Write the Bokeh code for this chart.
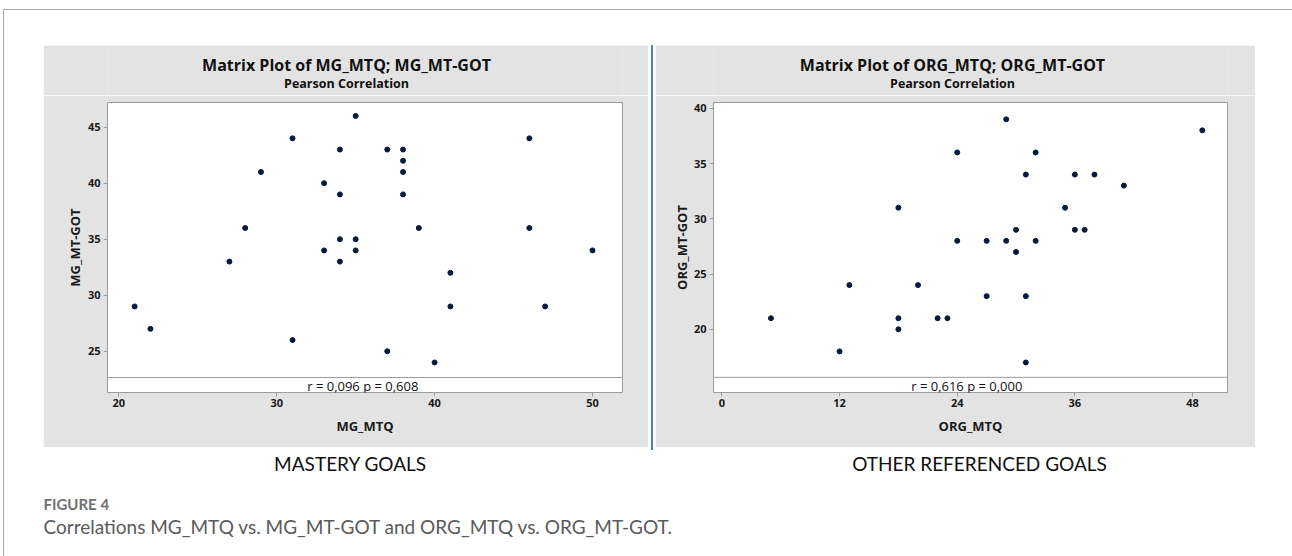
from bokeh.plotting import figure
from bokeh.models import Range1d, FixedTicker, Label, Span, Spacer
from bokeh.layouts import row, column
from bokeh.embed import file_html
from bokeh.resources import INLINE

# ---- data ----
mg_mtq = [21, 22, 27, 28, 29, 31, 31, 33, 33, 34, 34, 34, 34, 35, 35,
          35, 37, 37, 38, 38, 38, 38, 39, 40, 41, 41, 46, 46, 47, 50]
mg_got = [29, 27, 33, 36, 41, 44, 26, 40, 34, 43, 39, 35, 33, 46, 35,
          34, 43, 25, 43, 42, 41, 39, 36, 24, 32, 29, 44, 36, 29, 34]
org_mtq = [5, 12, 13, 18, 18, 18, 20, 22, 23, 24, 24, 27, 27, 29, 29,
           30, 30, 31, 31, 31, 32, 32, 35, 36, 36, 37, 38, 41, 49]
org_got = [21, 18, 24, 31, 21, 20, 24, 21, 21, 36, 28, 28, 23, 39, 28,
           29, 27, 34, 23, 17, 36, 28, 31, 34, 29, 29, 34, 33, 38]
mg_xticks = [20, 30, 40, 50]
mg_yticks = [25, 30, 35, 40, 45]
org_xticks = [0, 12, 24, 36, 48]
org_yticks = [20, 25, 30, 35, 40]
titles = ["Matrix Plot of MG_MTQ; MG_MT-GOT", "Matrix Plot of ORG_MTQ; ORG_MT-GOT"]
subtitle = "Pearson Correlation"
stats = ["r = 0,096  p = 0,608", "r = 0,616  p = 0,000"]
xlabels = ["MG_MTQ", "ORG_MTQ"]
ylabels = ["MG_MT-GOT", "ORG_MT-GOT"]
panel_names = ["MASTERY GOALS", "OTHER REFERENCED GOALS"]
fig_label = "FIGURE 4"
caption = "Correlations MG_MTQ vs. MG_MT-GOT and ORG_MTQ vs. ORG_MT-GOT."

GRAY = "#e3e3e3"
DOT = "#071a3d"
FONT = "Open Sans"


def blank(width, height, fill):
    f = figure(width=width, height=height, output_backend="svg", toolbar_location=None,
               x_range=Range1d(0, 1), y_range=Range1d(0, 1), min_border=0)
    f.axis.visible = False
    f.grid.visible = False
    f.outline_line_color = None
    f.background_fill_color = fill
    f.border_fill_color = fill
    return f


def panel(xs, ys, xr, yr, xt, yt, title, stat, xl, yl, width, mleft, mright,
          title_x, stat_x, strip_y, ylab_standoff):
    # header: its frame is aligned with the plot frame below by the column layout
    head = blank(width, 50, GRAY)
    head.add_layout(Label(x=title_x, y=31, x_units="screen", y_units="screen", text=title,
                          text_align="center", text_baseline="middle", text_font=FONT,
                          text_font_size="16px", text_font_style="bold", text_color="#111111"))
    head.add_layout(Label(x=title_x, y=12, x_units="screen", y_units="screen", text=subtitle,
                          text_align="center", text_baseline="middle", text_font=FONT,
                          text_font_size="12.5px", text_font_style="bold", text_color="#111111"))

    p = figure(width=width, height=352, output_backend="svg", toolbar_location=None,
               x_range=Range1d(*xr), y_range=Range1d(*yr),
               min_border_left=mleft, min_border_right=mright,
               min_border_top=7, min_border_bottom=55)
    p.background_fill_color = "white"
    p.border_fill_color = GRAY
    p.outline_line_color = "#9c9c9c"
    p.outline_line_width = 1
    p.xgrid.visible = False
    p.ygrid.visible = False
    for ax, ticks in ((p.xaxis, xt), (p.yaxis, yt)):
        ax.ticker = FixedTicker(ticks=ticks)
        ax.minor_tick_line_color = None
        ax.axis_line_color = None
        ax.major_tick_line_color = "#9c9c9c"
        ax.major_tick_in = 0
        ax.major_tick_out = 4
        ax.major_label_text_font = FONT
        ax.major_label_text_font_size = "11px"
        ax.major_label_text_font_style = "bold"
        ax.major_label_text_color = "#1a1a1a"
        ax.axis_label_text_font = FONT
        ax.axis_label_text_font_size = "13px"
        ax.axis_label_text_font_style = "bold"
        ax.axis_label_text_color = "#1a1a1a"
    p.xaxis.major_label_standoff = 2
    p.yaxis.major_label_standoff = 3
    p.xaxis.axis_label = xl
    p.yaxis.axis_label = yl
    p.xaxis.axis_label_standoff = 7
    p.yaxis.axis_label_standoff = ylab_standoff
    p.scatter(xs, ys, size=5, fill_color=DOT, line_color=DOT)
    p.add_layout(Span(location=strip_y, dimension="width", line_color="#9c9c9c", line_width=1))
    p.add_layout(Label(x=stat_x, y=7, x_units="screen", y_units="screen", text=stat,
                       text_align="center", text_baseline="middle", text_font=FONT,
                       text_font_size="13px", text_color="#111111"))
    return column(head, p)


left = panel(mg_mtq, mg_got, (19.28, 51.9), (21.32, 47.2), mg_xticks, mg_yticks,
             titles[0], stats[0], xlabels[0], ylabels[0], 605, 64, 26, 239, 257, 22.66, 1)
right = panel(org_mtq, org_got, (-0.86, 51.57), (14.28, 40.52), org_xticks, org_yticks,
              titles[1], stats[1], xlabels[1], ylabels[1], 600, 58, 28, 239, 255, 15.65, 0)

blue = Spacer(width=2, height=405, styles={"background-color": "#4a84c2"})

bottom = blank(1288, 109, "white")
bottom.add_layout(Label(x=346, y=96, x_units="screen", y_units="screen", text=panel_names[0],
                        text_align="center", text_baseline="middle", text_font="Lato",
                        text_font_size="19px", text_color="#111111"))
bottom.add_layout(Label(x=975, y=96, x_units="screen", y_units="screen", text=panel_names[1],
                        text_align="center", text_baseline="middle", text_font="Lato",
                        text_font_size="19px", text_color="#111111"))
bottom.add_layout(Label(x=39, y=56, x_units="screen", y_units="screen", text=fig_label,
                        text_align="left", text_baseline="middle", text_font="Lato",
                        text_font_size="15px", text_font_style="bold", text_color="#707070"))
bottom.add_layout(Label(x=39, y=33, x_units="screen", y_units="screen", text=caption,
                        text_align="left", text_baseline="middle", text_font="Lato",
                        text_font_size="19px", text_color="#5a5a5a"))

mid = row(Spacer(width=39, height=402), left, Spacer(width=3, height=402), blue,
          Spacer(width=2, height=402), right)
inner = column(Spacer(width=1288, height=35), mid, bottom,
               styles={"border-top": "1px solid #a8a8a8", "border-left": "1px solid #a8a8a8"})
page = column(Spacer(width=1292, height=9), row(Spacer(width=3, height=540), inner))

open("out.html", "w").write(file_html(page, INLINE))
